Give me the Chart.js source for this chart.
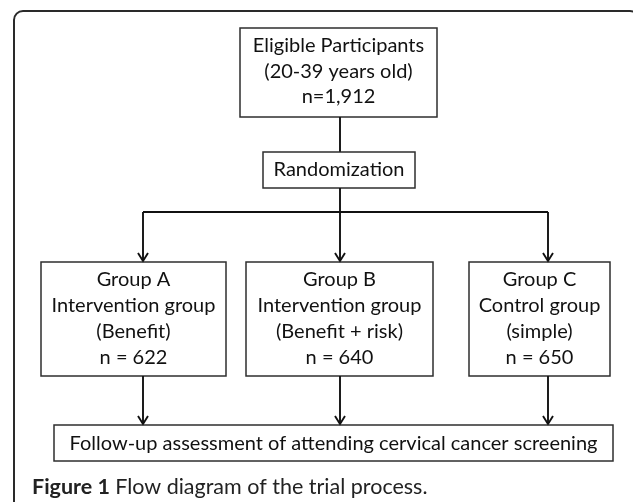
<!DOCTYPE html>
<html>
<head>
<meta charset="utf-8">
<script src="https://cdn.jsdelivr.net/npm/chart.js@4"></script>
<style>
  body { margin: 0; background: #fff; }
  #flow { display: block; }
</style>
</head>
<body>
<canvas id="flow" width="633" height="502"></canvas>
<script>
// values
const totalN = 1912;
const ageRange = '20-39';
const groupNames = ['Group A', 'Group B', 'Group C'];
const groupTypes = ['Intervention group', 'Intervention group', 'Control group'];
const groupMessages = ['(Benefit)', '(Benefit + risk)', '(simple)'];
const groupN = [622, 640, 650];
const outcomeLabel = 'Follow-up assessment of attending cervical cancer screening';
const captionBold = 'Figure 1';
const captionText = 'Flow diagram of the trial process.';

// layout, in the same units as the scales (pixels of the figure)
const topBox = { x1: 240, x2: 437, y1: 28, y2: 117 };
const randBox = { x1: 263, x2: 415, y1: 152, y2: 188 };
const branchY = 212;
const groupBoxes = [
    { x1: 41, x2: 226 },
    { x1: 246, x2: 433 },
    { x1: 469, x2: 610 }
];
const groupTop = 262, groupBottom = 376;
const branchX = [143, 340, 548];
const outBox = { x1: 54, x2: 613, y1: 425, y2: 461 };

const FONT = 'Lato, "Open Sans", sans-serif';

const flowPlugin = {
    id: 'flow',
    afterDraw(chart) {
        const ctx = chart.ctx;
        const sx = v => chart.scales.x.getPixelForValue(v);
        const sy = v => chart.scales.y.getPixelForValue(v);

        const box = (x1, y1, x2, y2) => {
            ctx.strokeStyle = '#2e2e2e';
            ctx.lineWidth = 1.5;
            ctx.strokeRect(sx(x1), sy(y1), sx(x2) - sx(x1), sy(y2) - sy(y1));
        };
        const line = (x1, y1, x2, y2) => {
            ctx.strokeStyle = '#111';
            ctx.lineWidth = 1.9;
            ctx.beginPath();
            ctx.moveTo(sx(x1), sy(y1));
            ctx.lineTo(sx(x2), sy(y2));
            ctx.stroke();
        };
        const arrow = (x, y1, y2) => {
            line(x, y1, x, y2);
            ctx.beginPath();
            ctx.moveTo(sx(x) - 5, sy(y2) - 9);
            ctx.lineTo(sx(x), sy(y2) - 1);
            ctx.lineTo(sx(x) + 5, sy(y2) - 9);
            ctx.stroke();
        };
        const lines = (arr, cx, firstY, step) => {
            ctx.fillStyle = '#111';
            ctx.font = '20px ' + FONT;
            ctx.textAlign = 'center';
            ctx.textBaseline = 'middle';
            arr.forEach((t, i) => ctx.fillText(t, sx(cx), sy(firstY + i * step)));
        };

        ctx.save();

        // outer rounded frame (open at the bottom, clipped at the right)
        const r = 9;
        ctx.strokeStyle = '#2a2a2a';
        ctx.lineWidth = 2;
        ctx.beginPath();
        ctx.moveTo(14, 502);
        ctx.lineTo(14, 11 + r);
        ctx.arcTo(14, 11, 14 + r, 11, r);
        ctx.lineTo(639 - r, 11);
        ctx.arcTo(639, 11, 639, 11 + r, r);
        ctx.lineTo(639, 502);
        ctx.stroke();

        // top box
        box(topBox.x1, topBox.y1, topBox.x2, topBox.y2);
        const topCx = (topBox.x1 + topBox.x2) / 2;
        lines(['Eligible Participants', '(' + ageRange + ' years old)', 'n=' + totalN.toLocaleString('en-US')], topCx, 46, 25.5);

        // randomization
        line(branchX[1], topBox.y2, branchX[1], randBox.y1);
        box(randBox.x1, randBox.y1, randBox.x2, randBox.y2);
        lines(['Randomization'], (randBox.x1 + randBox.x2) / 2, 170, 0);
        line(branchX[1], randBox.y2, branchX[1], branchY);
        line(branchX[0], branchY, branchX[2], branchY);

        // groups
        groupBoxes.forEach((g, i) => {
            arrow(branchX[i], branchY, groupTop);
            box(g.x1, groupTop, g.x2, groupBottom);
            lines([groupNames[i], groupTypes[i], groupMessages[i], 'n = ' + groupN[i]],
                (g.x1 + g.x2) / 2, 280, 26);
            arrow(branchX[i], groupBottom, outBox.y1);
        });

        // outcome
        box(outBox.x1, outBox.y1, outBox.x2, outBox.y2);
        lines([outcomeLabel], (outBox.x1 + outBox.x2) / 2, 444, 0);

        // caption
        ctx.fillStyle = '#222';
        ctx.textAlign = 'left';
        ctx.textBaseline = 'middle';
        ctx.font = 'bold 21.5px ' + FONT;
        ctx.fillText(captionBold, sx(32), sy(487));
        const w = ctx.measureText(captionBold + ' ').width;
        ctx.font = '21.5px ' + FONT;
        ctx.fillText(captionText, sx(32) + w, sy(487));

        ctx.restore();
    }
};

new Chart(document.getElementById('flow'), {
    type: 'scatter',
    data: { datasets: [] },
    options: {
        responsive: false,
        animation: false,
        layout: { padding: 0 },
        plugins: { legend: { display: false }, tooltip: { enabled: false } },
        scales: {
            x: { type: 'linear', min: 0, max: 633, display: false },
            y: { type: 'linear', min: 0, max: 502, reverse: true, display: false }
        }
    },
    plugins: [flowPlugin]
});
</script>
</body>
</html>
